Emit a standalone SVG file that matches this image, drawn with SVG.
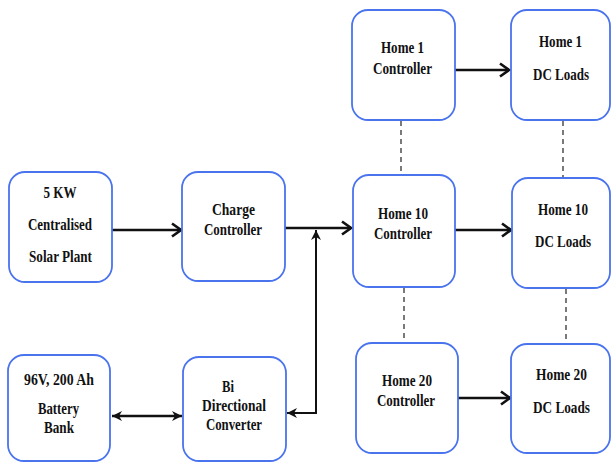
<svg xmlns="http://www.w3.org/2000/svg" width="611" height="463" viewBox="0 0 611 463">
<defs>
<style>
.box{fill:#fff;stroke:#4a73ee;stroke-width:1.8}
.t{font-family:"Liberation Serif","Times New Roman",serif;font-weight:bold;font-size:16px;fill:#111;text-anchor:middle}
.ln{stroke:#111;stroke-width:2.6;fill:none}
.thin{stroke:#111;stroke-width:2;fill:none}
.dash{stroke:#333;stroke-width:1.3;stroke-dasharray:5,4;fill:none}
</style>
<marker id="chev" markerUnits="userSpaceOnUse" markerWidth="14" markerHeight="16" refX="12" refY="8" orient="auto">
<path d="M3,1.5 L12,8 L3,14.5" fill="none" stroke="#111" stroke-width="2.6"/>
</marker>
<marker id="tri" markerUnits="userSpaceOnUse" markerWidth="12" markerHeight="12" refX="10" refY="6" orient="auto-start-reverse">
<path d="M0,1 L10,6 L0,11 L3,6 Z" fill="#111"/>
</marker>
</defs>
<g id="connectors">
<line class="ln" x1="112" y1="230" x2="181" y2="230" marker-end="url(#chev)"/>
<line class="ln" x1="285" y1="228" x2="351" y2="228" marker-end="url(#chev)"/>
<polyline class="thin" points="316,231 316,413 287,413" marker-end="url(#tri)"/>
<line class="thin" x1="316" y1="260" x2="316" y2="230" marker-end="url(#tri)"/>
<line class="ln" x1="112" y1="416" x2="182" y2="416" marker-start="url(#tri)" marker-end="url(#tri)"/>
<line class="ln" x1="455" y1="70" x2="509" y2="70" marker-end="url(#chev)"/>
<line class="ln" x1="455" y1="230" x2="511" y2="230" marker-end="url(#chev)"/>
<line class="ln" x1="458" y1="398" x2="510" y2="398" marker-end="url(#chev)"/>
<line class="dash" x1="401" y1="121" x2="401" y2="175"/>
<line class="dash" x1="563" y1="121" x2="563" y2="178"/>
<line class="dash" x1="404" y1="288" x2="404" y2="343"/>
<line class="dash" x1="566" y1="289" x2="566" y2="344"/>
</g>
<g id="solar">
<rect class="box" x="9" y="172" width="103" height="110" rx="16"/>
<text class="t" x="60" y="198" textLength="33" lengthAdjust="spacingAndGlyphs">5 KW</text>
<text class="t" x="60" y="230" textLength="64" lengthAdjust="spacingAndGlyphs">Centralised</text>
<text class="t" x="60.5" y="262" textLength="63" lengthAdjust="spacingAndGlyphs">Solar Plant</text>
</g>
<g id="charge">
<rect class="box" x="182" y="172" width="103" height="109" rx="16"/>
<text class="t" x="233.5" y="215" textLength="43" lengthAdjust="spacingAndGlyphs">Charge</text>
<text class="t" x="233" y="235" textLength="58" lengthAdjust="spacingAndGlyphs">Controller</text>
</g>
<g id="battery">
<rect class="box" x="8" y="355" width="102" height="106" rx="16"/>
<text class="t" x="59" y="385" textLength="70" lengthAdjust="spacingAndGlyphs">96V, 200 Ah</text>
<text class="t" x="58.5" y="414" textLength="41" lengthAdjust="spacingAndGlyphs">Battery</text>
<text class="t" x="59" y="433" textLength="30" lengthAdjust="spacingAndGlyphs">Bank</text>
</g>
<g id="converter">
<rect class="box" x="183" y="357" width="103" height="104" rx="16"/>
<text class="t" x="228" y="392" textLength="12" lengthAdjust="spacingAndGlyphs">Bi</text>
<text class="t" x="234" y="411" textLength="64" lengthAdjust="spacingAndGlyphs">Directional</text>
<text class="t" x="234" y="430" textLength="56" lengthAdjust="spacingAndGlyphs">Converter</text>
</g>
<g id="home1ctrl">
<rect class="box" x="352" y="10" width="103" height="110" rx="16"/>
<text class="t" x="402.5" y="53" textLength="43" lengthAdjust="spacingAndGlyphs">Home 1</text>
<text class="t" x="402.5" y="74" textLength="59" lengthAdjust="spacingAndGlyphs">Controller</text>
</g>
<g id="home1loads">
<rect class="box" x="511" y="10" width="99" height="110" rx="16"/>
<text class="t" x="560.5" y="47" textLength="43" lengthAdjust="spacingAndGlyphs">Home 1</text>
<text class="t" x="561" y="80" textLength="56" lengthAdjust="spacingAndGlyphs">DC Loads</text>
</g>
<g id="home10ctrl">
<rect class="box" x="353" y="175" width="102" height="112" rx="16"/>
<text class="t" x="403" y="219" textLength="50" lengthAdjust="spacingAndGlyphs">Home 10</text>
<text class="t" x="403" y="239" textLength="58" lengthAdjust="spacingAndGlyphs">Controller</text>
</g>
<g id="home10loads">
<rect class="box" x="512" y="178" width="98" height="110" rx="16"/>
<text class="t" x="563" y="215" textLength="50" lengthAdjust="spacingAndGlyphs">Home 10</text>
<text class="t" x="563" y="247" textLength="56" lengthAdjust="spacingAndGlyphs">DC Loads</text>
</g>
<g id="home20ctrl">
<rect class="box" x="356" y="343" width="102" height="110" rx="16"/>
<text class="t" x="407" y="386" textLength="50" lengthAdjust="spacingAndGlyphs">Home 20</text>
<text class="t" x="406" y="406" textLength="58" lengthAdjust="spacingAndGlyphs">Controller</text>
</g>
<g id="home20loads">
<rect class="box" x="511" y="344" width="99" height="109" rx="16"/>
<text class="t" x="561.5" y="380" textLength="51" lengthAdjust="spacingAndGlyphs">Home 20</text>
<text class="t" x="561.5" y="413" textLength="57" lengthAdjust="spacingAndGlyphs">DC Loads</text>
</g>
</svg>
